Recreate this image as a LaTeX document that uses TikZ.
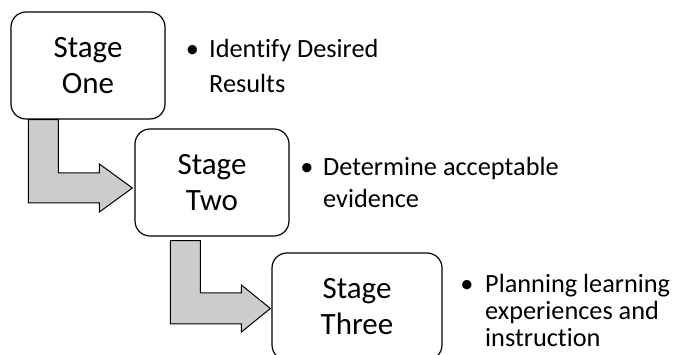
\documentclass[tikz,border=0pt]{standalone}
\usepackage{fontspec}
\setmainfont[Ligatures=NoCommon]{Carlito}
\usetikzlibrary{calc}

\begin{document}
\begin{tikzpicture}[x=1pt,y=1pt,
    stagebox/.style={draw,line width=1.2pt,rounded corners=15pt,fill=white,align=center,
      inner sep=0pt,minimum width=154pt,minimum height=107pt,font=\fontsize{31}{36.5}\selectfont},
    bentarrow/.style={draw,line width=1pt,fill=black!20},
    desc/.style={anchor=base west,align=left,inner sep=0pt},
    dot/.style={anchor=base,inner sep=0pt,font=\fontsize{26.3}{30}\selectfont}]
  \useasboundingbox (0,0) rectangle (674,355);

  % stages
  \node[stagebox] (one) at (88,289.5) {Stage\\One};
  \node[stagebox] (two) at (212,172.5) {Stage\\Two};
  \node[stagebox,minimum width=170pt] (three) at (357,48.5) {Stage\\Three};

  % bent arrows
  \draw[bentarrow] let \p1=(one.south west), \p2=(two.west) in
    (\x1+18,\y1) -- (\x1+48,\y1) -- (\x1+48,\y2+9.5) -- (\x2-35,\y2+9.5)
    -- (\x2-35,\y2+18.5) -- (\x2-2,\y2-5.5) -- (\x2-35,\y2-29.5)
    -- (\x2-35,\y2-20.5) -- (\x1+18,\y2-20.5) -- cycle;
  \draw[bentarrow] let \p1=(two.south west), \p2=(three.west) in
    (\x1+36,\y1-4) -- (\x1+66,\y1-4) -- (\x1+66,\y2+13.5) -- (\x2-30,\y2+13.5)
    -- (\x2-30,\y2+21.5) -- (\x2-1,\y2-2) -- (\x2-30,\y2-25.5)
    -- (\x2-30,\y2-17.5) -- (\x1+36,\y2-17.5) -- cycle;

  % descriptions (base = last line)
  \node[desc,font=\fontsize{26.3}{35}\selectfont] (res) at (209,262) {Identify Desired\\Results};
  \node[dot] (resdot) at (192.5,297) {\textbullet};
  \node[desc,font=\fontsize{26.3}{32}\selectfont] (evi) at (323,147) {Determine acceptable\\evidence};
  \node[dot] (evidot) at (307,179) {\textbullet};
  \node[desc,font=\fontsize{26.3}{27}\selectfont] (ins) at (485,8) {Planning learning\\experiences and\\instruction};
  \node[dot] (insdot) at (467,62) {\textbullet};
\end{tikzpicture}
\end{document}
